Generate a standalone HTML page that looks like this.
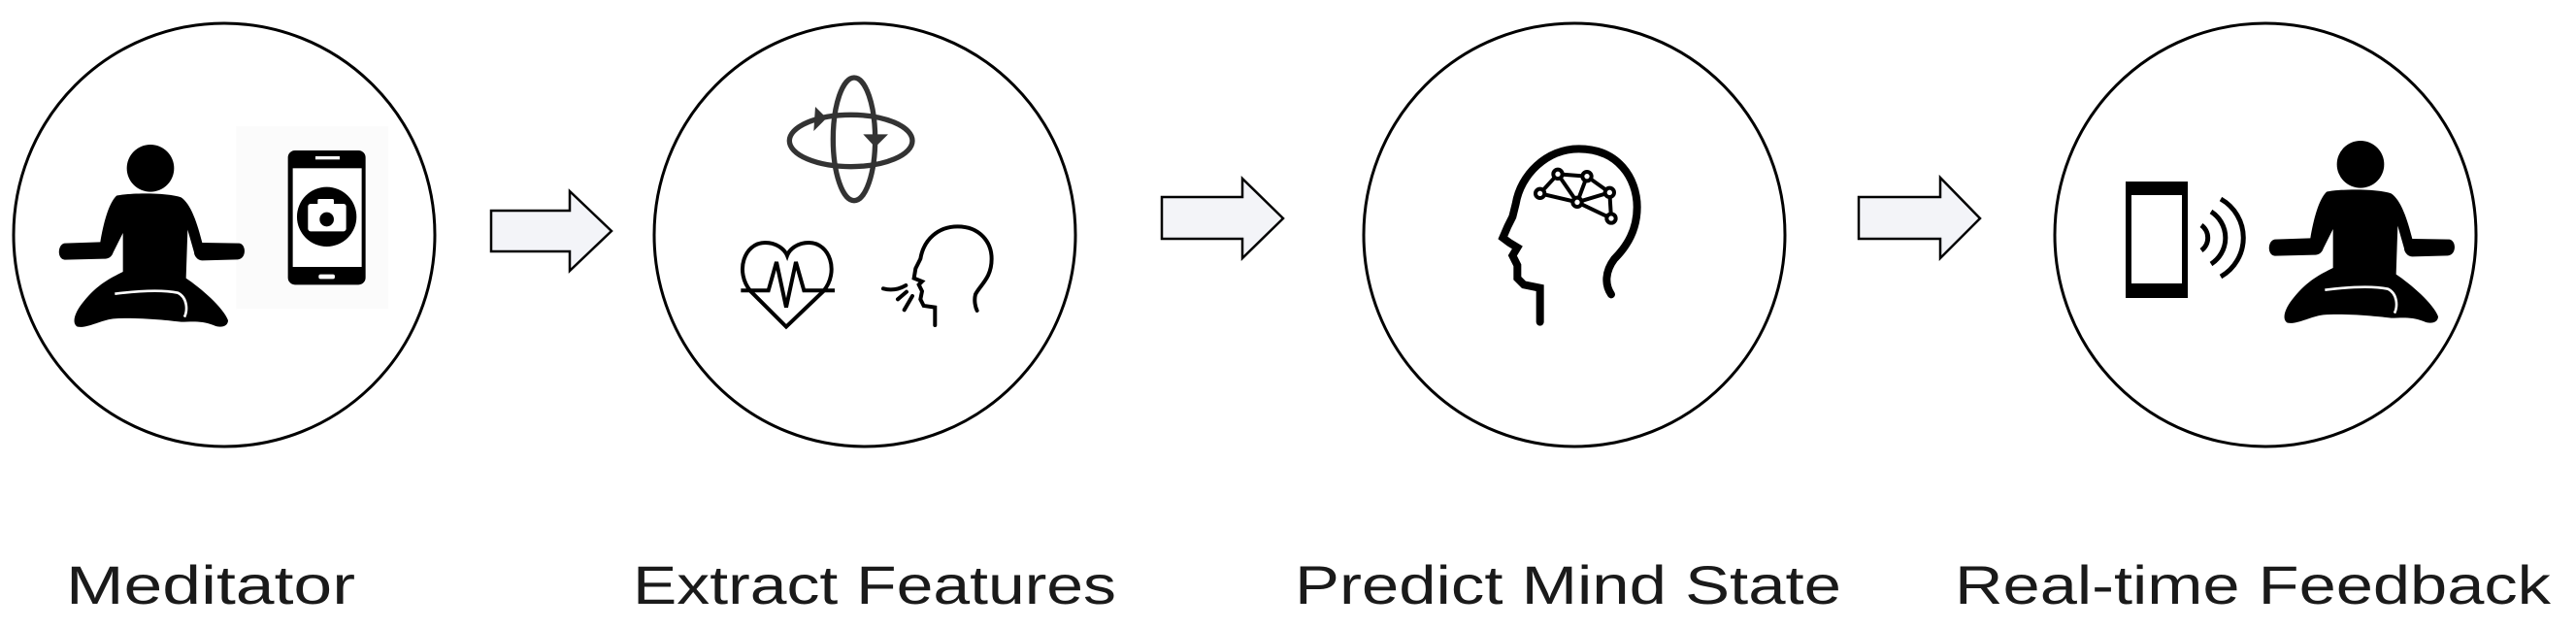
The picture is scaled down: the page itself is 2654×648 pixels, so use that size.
<!DOCTYPE html>
<html><head><meta charset="utf-8"><style>
html,body{margin:0;padding:0;background:#fff;width:2654px;height:648px;overflow:hidden}
svg{display:block}
text{font-family:"Liberation Sans",sans-serif;font-size:56px;fill:#1a1a1a}
</style></head><body>
<svg width="2654" height="648" viewBox="0 0 2654 648" xmlns="http://www.w3.org/2000/svg">
<defs>
<g id="fig">
  <circle cx="345" cy="130" r="73" fill="#000"/>
  <path fill="#000" d="M240,215 C280,205 400,205 440,220 C470,240 490,300 505,360 L620,362 C642,366 642,410 615,412 L505,415 C490,415 480,400 480,390 L460,320 L455,470 C500,500 570,560 585,600 C585,620 560,625 540,615 C500,600 470,605 440,605 C400,600 300,590 230,595 C190,600 150,625 120,620 C100,610 110,575 140,540 C180,490 220,470 260,450 L260,330 L230,390 C225,405 215,410 200,410 L80,413 C55,410 58,365 80,362 L190,358 C200,300 215,240 240,215 Z"/>
  <path d="M235,518 C300,510 380,505 430,515 C460,530 460,570 450,590" stroke="#fff" stroke-width="8" fill="none"/>
</g>
</defs>
<g fill="none" stroke="#000" stroke-width="3">
<ellipse cx="231" cy="242" rx="217" ry="218"/>
<ellipse cx="891" cy="242" rx="217" ry="218"/>
<ellipse cx="1622" cy="242" rx="217" ry="218"/>
<ellipse cx="2334" cy="242" rx="217" ry="218"/>
</g>
<g fill="#f3f4f8" stroke="#000" stroke-width="2.5">
<polygon points="506,217 587,217 587,197 630,238 587,279 587,259 506,259"/>
<polygon points="1197,203 1280,203 1280,184 1322,225 1280,266 1280,246 1197,246"/>
<polygon points="1915,203 1999,203 1999,183 2040,225 1999,266 1999,246 1915,246"/>
</g>
<g transform="translate(40,130) scale(0.3333)">
  <rect x="610" y="0" width="470" height="565" fill="#fbfbfb"/>
  <use href="#fig"/>
  <rect x="770" y="75" width="240" height="415" rx="22" fill="#000"/>
  <rect x="785" y="130" width="213" height="305" fill="#fff"/>
  <rect x="855" y="93" width="75" height="10" fill="#fff"/>
  <rect x="865" y="458" width="50" height="14" rx="6" fill="#fff"/>
  <circle cx="890" cy="280" r="92" fill="#000"/>
  <rect x="832" y="240" width="118" height="85" rx="8" fill="#fff"/>
  <rect x="862" y="225" width="50" height="22" rx="4" fill="#fff"/>
  <circle cx="890" cy="288" r="22" fill="#000"/>
</g>
<g transform="translate(730,60) scale(0.3333)" fill="none" stroke="#333" stroke-width="16">
  <ellipse cx="450" cy="250" rx="65" ry="190"/>
  <ellipse cx="440" cy="255" rx="190" ry="80"/>
  <polygon points="330,150 365,185 325,225" fill="#333" stroke="none"/>
  <polygon points="478,235 555,235 515,275" fill="#333" stroke="none"/>
  <g stroke="#000" stroke-width="12" stroke-linejoin="miter">
  <path d="M240,830 L130,720 C80,660 110,570 175,570 C210,570 235,590 243,610 C250,590 275,570 310,570 C375,570 405,660 355,720 Z"/>
  <path d="M100,718 L185,718 L210,630 L240,770 L270,630 L295,718 L390,718"/>
  <path d="M700,825 L700,770 L665,765 L655,745 L660,720 L650,700 L660,690 L635,680 L640,650 L655,620 C665,560 710,520 770,520 C840,520 875,570 875,620 C875,680 840,700 825,730 C820,750 825,770 830,780" stroke-linecap="round"/>
  <path d="M540,712 Q575,722 610,702 M585,745 L612,722 M605,778 L630,735" stroke-linecap="round"/>
  </g>
</g>
<g transform="translate(1520,140) scale(0.3333)" fill="none" stroke="#000" stroke-width="24" stroke-linecap="round">
  <path d="M200,575 L200,470 L150,460 L130,440 L130,400 L115,370 L130,345 L105,330 L85,315 L100,280 L115,250 L125,210 C140,120 220,40 320,40 C440,40 500,130 500,220 C500,290 470,340 430,380 C400,420 400,460 420,490"/>
  <g stroke-width="12">
  <path d="M200,178 L255,118 L345,125 L415,175 L420,255 L315,205 L200,178 M255,118 L315,205 L345,125 M315,205 L415,175"/>
  <g fill="#fff">
  <circle cx="255" cy="118" r="14"/><circle cx="345" cy="125" r="14"/><circle cx="200" cy="178" r="14"/>
  <circle cx="315" cy="205" r="14"/><circle cx="415" cy="175" r="14"/><circle cx="420" cy="255" r="14"/>
  </g></g>
</g>
<rect x="2193" y="190" width="58" height="114" fill="none" stroke="#000" stroke-width="6"/>
<rect x="2190" y="187" width="64" height="14" fill="#000"/>
<rect x="2190" y="292" width="64" height="15" fill="#000"/>
<g fill="none" stroke="#000" stroke-width="5">
<path d="M2268,232 A16,16 0 0 1 2268,258"/>
<path d="M2278,218 A32,32 0 0 1 2278,272"/>
<path d="M2288,205 A46,46 0 0 1 2288,285"/>
</g>
<g transform="translate(2317,126) scale(0.3333)"><use href="#fig"/></g>
<text x="68" y="622" textLength="298" lengthAdjust="spacingAndGlyphs">Meditator</text>
<text x="652" y="622" textLength="498" lengthAdjust="spacingAndGlyphs">Extract Features</text>
<text x="1334" y="622" textLength="563" lengthAdjust="spacingAndGlyphs">Predict Mind State</text>
<text x="2014" y="622" textLength="614" lengthAdjust="spacingAndGlyphs">Real-time Feedback</text>
</svg>
</body></html>
